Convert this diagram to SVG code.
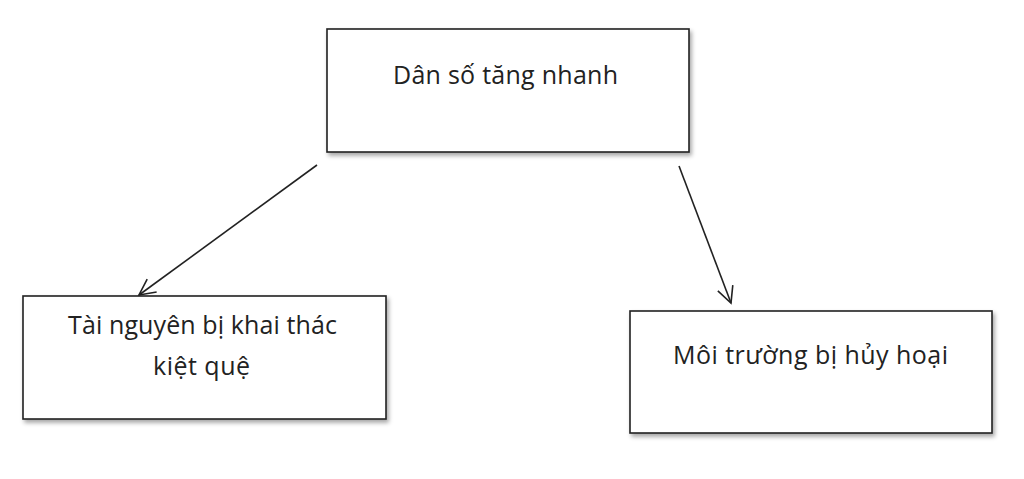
<svg xmlns="http://www.w3.org/2000/svg" width="1024" height="479" viewBox="0 0 1024 479">
<defs>
<filter id="sh" x="-5%" y="-5%" width="115%" height="120%">
<feDropShadow dx="2" dy="3" stdDeviation="2" flood-color="#000" flood-opacity="0.35"/>
</filter>
<marker id="arr" viewBox="0 0 20 20" refX="18" refY="10" markerWidth="20" markerHeight="20" markerUnits="userSpaceOnUse" orient="auto">
<path d="M2,2 L18,10 L2,18" fill="none" stroke="#222" stroke-width="1.6"/>
</marker>
</defs>
<style>
.box{fill:#fff;stroke:#222;stroke-width:1.6;filter:url(#sh)}
.t{font-family:"Open Sans","Liberation Sans",Arial,sans-serif;font-size:25px;fill:#222;text-anchor:middle}
.c{stroke:#222;stroke-width:1.6;fill:none;marker-end:url(#arr)}
</style>
<rect width="1024" height="479" fill="#fff"/>
<g id="connectors">
<line class="c" x1="317" y1="165" x2="139" y2="295"/>
<line class="c" x1="679" y1="166" x2="731" y2="303"/>
</g>
<g id="n1">
<rect class="box" x="327" y="29" width="362" height="123"/>
<text class="t" x="505.5" y="84" textLength="225" lengthAdjust="spacing">Dân số tăng nhanh</text>
</g>
<g id="n2">
<rect class="box" x="23" y="296" width="363" height="123"/>
<text class="t" x="202.5" y="334" textLength="269" lengthAdjust="spacing">Tài nguyên bị khai thác</text>
<text class="t" x="201.5" y="375" textLength="97" lengthAdjust="spacing">kiệt quệ</text>
</g>
<g id="n3">
<rect class="box" x="630" y="311" width="362" height="122"/>
<text class="t" x="810.5" y="364" textLength="275" lengthAdjust="spacing">Môi trường bị hủy hoại</text>
</g>
</svg>
